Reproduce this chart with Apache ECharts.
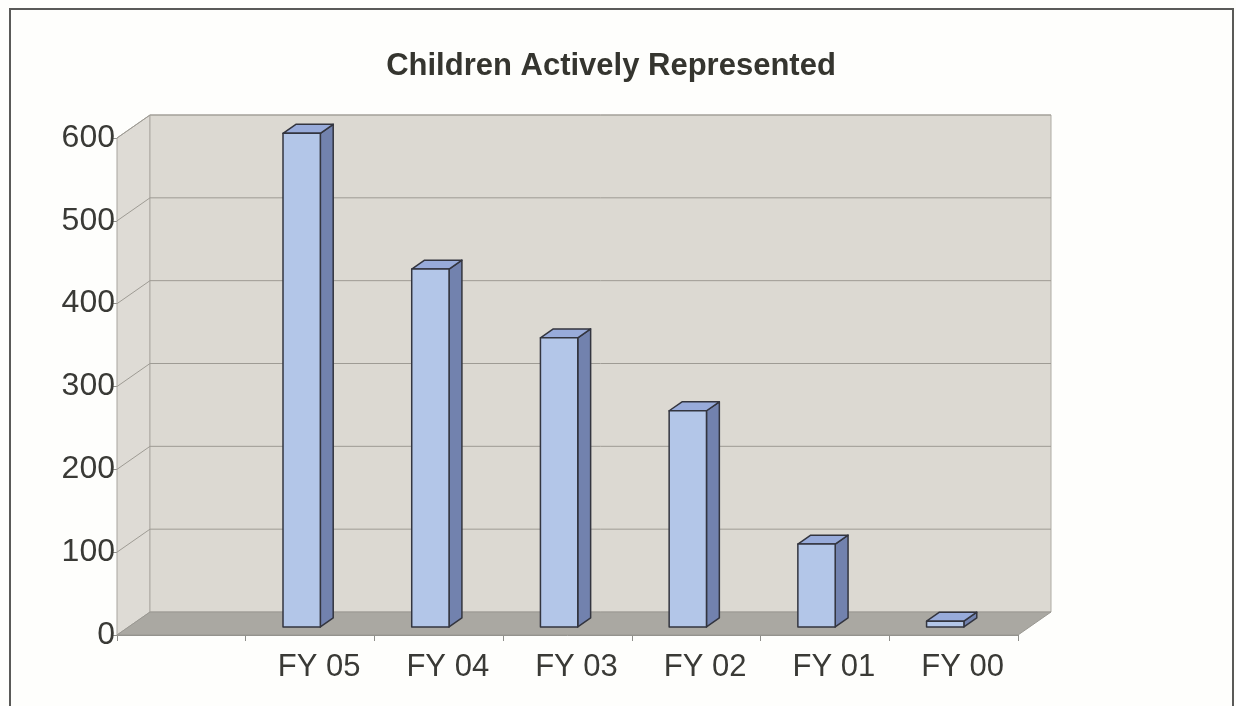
<!DOCTYPE html>
<html>
<head>
    <meta charset="utf-8">
    <title>Children Actively Represented</title>
    <script src="https://cdn.jsdelivr.net/npm/echarts@6/dist/echarts.min.js"></script>
    <style>
        html, body { margin: 0; padding: 0; background: #fefefc; }
    </style>
</head>
<body>
<div id="main" style="width: 1236px;height:706px;"></div>
<script type="text/javascript">
    // data (first slot is empty in the original)
    var categories = ['', 'FY 05', 'FY 04', 'FY 03', 'FY 02', 'FY 01', 'FY 00'];
    var children = [null, 596, 432, 349, 261, 100, 7];
    var yMin = 0, yMax = 600, yStep = 100;

    // fake 3d depth (pixels of full depth), Excel style
    var DX = 33, DY = -23;
    var FRONT = 0.35, BACK = 0.74;   // where bars sit inside the depth

    var myChart = echarts.init(document.getElementById('main'));

    function wallsItem(params, api) {
        var cs = params.coordSys;
        var L = cs.x, R = cs.x + cs.width;
        var B = api.coord([0, yMin])[1];
        var T = api.coord([0, yMax])[1];
        var kids = [];
        // left side wall
        kids.push({
            type: 'polygon',
            shape: { points: [[L, B], [L, T], [L + DX, T + DY], [L + DX, B + DY]] },
            style: { fill: '#dedbd5', stroke: '#a8a59f', lineWidth: 1 }
        });
        // back wall
        kids.push({
            type: 'rect',
            shape: { x: L + DX, y: T + DY, width: R - L, height: B - T },
            style: { fill: '#dcd9d2', stroke: '#aeaba4', lineWidth: 1 }
        });
        // grid lines on back + side walls
        for (var v = yMin + yStep; v <= yMax; v += yStep) {
            var y = api.coord([0, v])[1];
            kids.push({
                type: 'polyline',
                shape: { points: [[L, y], [L + DX, y + DY], [R + DX, y + DY]] },
                style: { fill: null, stroke: '#9e9b94', lineWidth: 1 }
            });
        }
        // floor
        kids.push({
            type: 'polygon',
            shape: { points: [[L, B], [L + DX, B + DY], [R + DX, B + DY], [R, B]] },
            style: { fill: '#aaa8a2', stroke: '#9a9892', lineWidth: 1 }
        });
        return { type: 'group', children: kids };
    }

    function barItem(params, api) {
        var idx = api.value(0);
        var top = api.coord([idx, api.value(1)]);
        var base = api.coord([idx, yMin]);
        var band = api.size([1, 0])[0];
        var x0 = top[0] - 0.30 * band;
        var x1 = x0 + 0.29 * band;
        var yt = top[1], yb = base[1];
        var fx = FRONT * DX, fy = FRONT * DY, bx = BACK * DX, by = BACK * DY;
        var line = { stroke: '#33353f', lineWidth: 1.5, lineJoin: 'round' };
        return {
            type: 'group',
            children: [
                {
                    type: 'polygon',
                    shape: { points: [[x1 + fx, yt + fy], [x1 + bx, yt + by], [x1 + bx, yb + by], [x1 + fx, yb + fy]] },
                    style: Object.assign({ fill: '#7282ae' }, line)
                },
                {
                    type: 'polygon',
                    shape: { points: [[x0 + fx, yt + fy], [x1 + fx, yt + fy], [x1 + bx, yt + by], [x0 + bx, yt + by]] },
                    style: Object.assign({ fill: '#98abda' }, line)
                },
                {
                    type: 'rect',
                    shape: { x: x0 + fx, y: yt + fy, width: x1 - x0, height: yb - yt },
                    style: Object.assign({ fill: '#b3c6e8' }, line)
                }
            ]
        };
    }

    var barData = [];
    children.forEach(function (v, i) {
        if (v !== null) barData.push([i, v]);
    });

    var option = {
        backgroundColor: '#fefefc',
        animation: false,
        title: {
            text: 'Children Actively Represented',
            left: 606,
            textAlign: 'center',
            top: 46,
            textStyle: {
                fontFamily: 'Liberation Sans, Arial, sans-serif',
                fontSize: 31,
                fontWeight: 'bold',
                color: '#35352f'
            }
        },
        graphic: [{
            type: 'rect',
            z: -10,
            shape: { x: 10, y: 9, width: 1223, height: 720 },
            style: { fill: null, stroke: '#5a5a58', lineWidth: 2 }
        }],
        grid: {
            left: 117,
            right: 218,
            top: 138,
            bottom: 71
        },
        xAxis: {
            type: 'category',
            data: categories,
            boundaryGap: true,
            axisLine: { show: true, lineStyle: { color: '#8e8e8a', width: 1 } },
            axisTick: { show: true, length: 6, lineStyle: { color: '#8e8e8a' } },
            axisLabel: {
                margin: 17,
                padding: [0, 0, 0, 18],
                fontFamily: 'Liberation Sans, Arial, sans-serif',
                fontSize: 31,
                color: '#3a3a36'
            },
            splitLine: { show: false }
        },
        yAxis: {
            type: 'value',
            min: yMin,
            max: yMax,
            interval: yStep,
            axisLine: { show: true, lineStyle: { color: '#8e8e8a', width: 1 } },
            axisTick: { show: true, length: 6, lineStyle: { color: '#8e8e8a' } },
            axisLabel: {
                margin: 2,
                padding: [8, 0, 0, 0],
                fontFamily: 'Liberation Sans, Arial, sans-serif',
                fontSize: 32,
                color: '#3a3a36'
            },
            splitLine: { show: false }
        },
        series: [
            {
                name: 'walls',
                type: 'custom',
                z: 1,
                silent: true,
                renderItem: wallsItem,
                data: [[0, 0]]
            },
            {
                name: 'Children Actively Represented',
                type: 'custom',
                z: 3,
                renderItem: barItem,
                encode: { x: 0, y: 1 },
                data: barData
            }
        ]
    };
    myChart.setOption(option);
</script>
</body>
</html>
